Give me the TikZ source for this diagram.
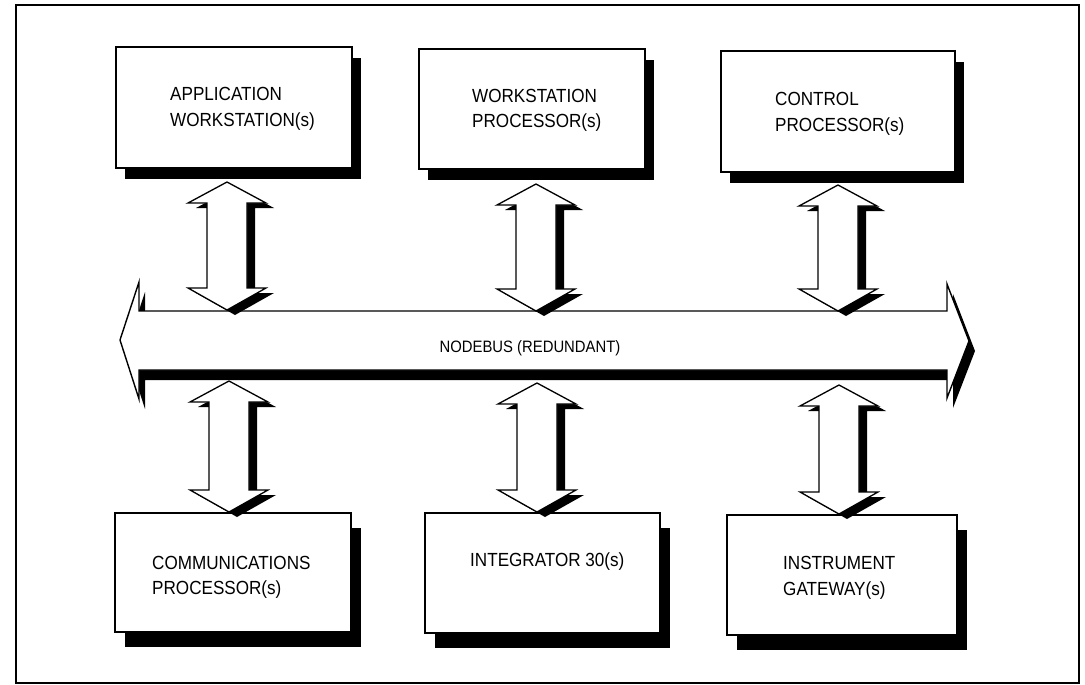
\documentclass[tikz,border=0pt]{standalone}
\usepackage{fontspec}
\setmainfont[FakeStretch=0.9]{Liberation Sans}
\usetikzlibrary{calc,shadows}
\begin{document}
\begin{tikzpicture}[x=1pt,y=-1pt,
  box/.style={draw, fill=white, line width=1.6pt, inner sep=0pt, outer sep=0pt},
  topshadow/.style={general shadow={fill=black, shadow xshift=9pt, shadow yshift=-11pt}},
  botshadow/.style={general shadow={fill=black, shadow xshift=10pt, shadow yshift=-15pt}},
  lbl/.style={inner sep=0pt, anchor=west, align=left, font=\fontsize{19}{25.5}\selectfont},
  buslbl/.style={inner sep=0pt, font=\fontsize{16.5}{20}\selectfont},
  busstyle/.style={draw, fill=white, line width=1.4pt, line join=miter,
    general shadow={fill=black, shadow xshift=6pt, shadow yshift=-10pt}},
  blockarrow/.style={draw, fill=white, line width=1.3pt, line join=miter,
    general shadow={fill=black, shadow xshift=8pt, shadow yshift=-5pt},
    to path={let \p1=(\tikztostart), \p2=(\tikztotarget) in
      (\x1,\y1) -- (\x1+39pt,\y1-21pt) -- (\x1+20pt,\y1-21pt) -- (\x2+20pt,\y2+22pt)
      -- (\x2+39pt,\y2+22pt) -- (\x2,\y2) -- (\x2-39pt,\y2+22pt) -- (\x2-20pt,\y2+22pt)
      -- (\x1-20pt,\y1-21pt) -- (\x1-39pt,\y1-21pt) -- cycle}}
]
\useasboundingbox (0,0) rectangle (1085,685);
\fill[white] (0,0) rectangle (1085,685);
% outer frame
\draw[line width=1.5pt] (16,5) rectangle (1079,683);

% boxes
\node[box, topshadow, minimum width=236pt, minimum height=121pt] (b1) at (234,107.5) {};
\node[box, topshadow, minimum width=226pt, minimum height=120pt] (b2) at (532,109) {};
\node[box, topshadow, minimum width=234pt, minimum height=121pt] (b3) at (838,111.5) {};
\node[box, botshadow, minimum width=236pt, minimum height=119pt] (b4) at (233,572.5) {};
\node[box, botshadow, minimum width=235pt, minimum height=120pt] (b5) at (542.5,573) {};
\node[box, botshadow, minimum width=230pt, minimum height=120pt] (b6) at (842,575) {};

\node[lbl] (t1) at (170,109) {APPLICATION\\WORKSTATION(s)};
\node[lbl] (t2) at (472,110.5) {WORKSTATION\\PROCESSOR(s)};
\node[lbl] (t3) at (775,114) {CONTROL\\PROCESSOR(s)};
\node[lbl] (t4) at (152,577.5) {COMMUNICATIONS\\PROCESSOR(s)};
\node[lbl] (t5) at (470,562) {INTEGRATOR 30(s)};
\node[lbl] (t6) at (783,578) {INSTRUMENT\\GATEWAY(s)};

% bus
\draw[busstyle] (120,340) -- (139,282) -- (139,311) -- (947,311) -- (947,284)
  -- (969,341) -- (947,398) -- (947,370) -- (139,370) -- (139,399) -- cycle;
\node[buslbl] (bus) at (530,348) {NODEBUS (REDUNDANT)};

% arrow end points
\coordinate (a1t) at (227,182); \coordinate (a1b) at (227,310);
\coordinate (a2t) at (536,184); \coordinate (a2b) at (536,311);
\coordinate (a3t) at (838,185); \coordinate (a3b) at (838,311);
\coordinate (a4t) at (229,381); \coordinate (a4b) at (229,512);
\coordinate (a5t) at (537,383); \coordinate (a5b) at (537,512);
\coordinate (a6t) at (839,385); \coordinate (a6b) at (839,514);

\draw[blockarrow] (a1t) to (a1b);
\draw[blockarrow] (a2t) to (a2b);
\draw[blockarrow] (a3t) to (a3b);
\draw[blockarrow] (a4t) to (a4b);
\draw[blockarrow] (a5t) to (a5b);
\draw[blockarrow] (a6t) to (a6b);
\end{tikzpicture}
\end{document}
